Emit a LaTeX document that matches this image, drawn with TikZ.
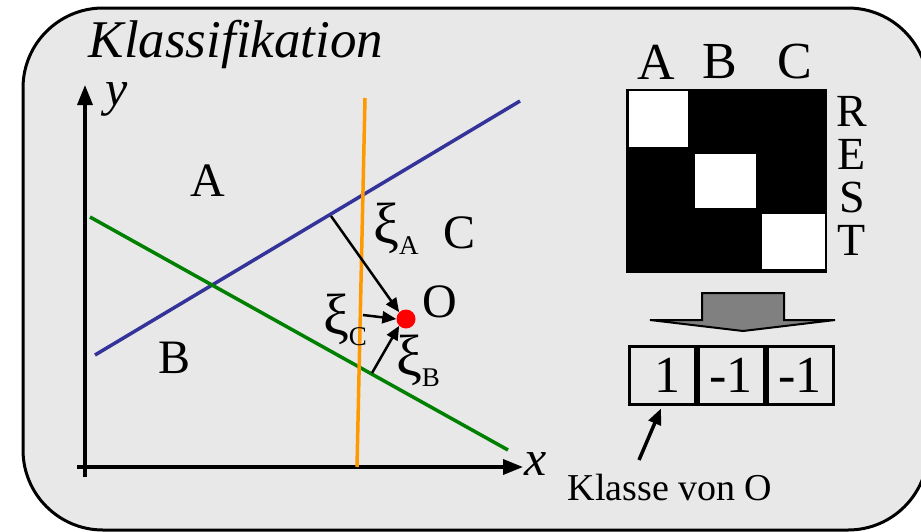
\documentclass[tikz,border=0pt]{standalone}
\usepackage{fontspec}
\setmainfont{Liberation Serif}
\usetikzlibrary{arrows.meta,positioning,calc}
\definecolor{panelgray}{HTML}{E8E8E8}
\definecolor{lblue}{HTML}{333399}
\definecolor{lgreen}{HTML}{008000}
\definecolor{lorange}{HTML}{FF9900}
\definecolor{blockgray}{HTML}{808080}
\newcommand{\xilabel}[1]{{\fontsize{58}{58}\selectfont ξ}\raisebox{-11pt}{\fontsize{27}{27}\selectfont #1}}

\begin{document}
\begin{tikzpicture}[x=1pt, y=-1pt,
  lbl/.style={inner sep=0pt, font=\fontsize{48}{50}\selectfont},
  sepline/.style={line width=3.5pt},
  axis/.style={line width=3.5pt, -{Triangle[length=20pt,width=15pt]}},
  xiarrow/.style={line width=2.5pt, -{Triangle[length=14pt,width=12pt]}},
  valbox/.style={draw, line width=3pt, minimum width=66pt, minimum height=58pt,
    inner sep=0pt, font=\fontsize{52}{52}\selectfont}]
\useasboundingbox (0,0) rectangle (921,531);
% ---------- panel ----------
\draw[fill=panelgray, line width=3pt, rounded corners=80pt] (23,8) rectangle (928,530);
\node[lbl, font=\fontsize{53}{54}\selectfont\itshape] (title) at (236,44) {Klassifikation};
% ---------- left: feature plane ----------
\coordinate (ybot)  at (85,477);
\coordinate (ytip)  at (85,85);
\coordinate (xleft) at (77,467);
\coordinate (xtip)  at (523,467);
\draw[axis] (ybot) -- (ytip);
\draw[axis] (xleft) -- (xtip);
\node[lbl, font=\fontsize{50}{50}\selectfont\itshape] (ylab) at (117,99) {y};
\node[lbl, font=\fontsize{50}{50}\selectfont\itshape] (xlab) at (536,464) {x};
% separating lines
\coordinate (bl1) at (95,355);  \coordinate (bl2) at (520,101);
\coordinate (gl1) at (90,217);  \coordinate (gl2) at (508,450);
\coordinate (ol1) at (365,98);  \coordinate (ol2) at (357,467);
\draw[sepline, lblue]   (bl1) -- (bl2);
\draw[sepline, lgreen]  (gl1) -- (gl2);
\draw[sepline, lorange] (ol1) -- (ol2);
\node[lbl] (regA) at (208,181) {A};
\node[lbl] (regB) at (175,358) {B};
\node[lbl] (regC) at (460,233) {C};
% object O and its distances
\node[circle, fill=red, inner sep=0pt, minimum size=19pt] (obj) at (406,319) {};
\node[lbl] (objlab) at (440,302) {O};
\coordinate (footA) at (331,216);
\coordinate (footB) at (372,373);
\coordinate (footC) at (363,315);
\draw[xiarrow] (footA) -- (obj.north west);
\draw[xiarrow] (footB) -- (obj.south west);
\draw[xiarrow] (footC) -- (obj.west);
\node[lbl] (xiA) at (396,229) {\xilabel{A}};
\node[lbl] (xiC) at (345,320) {\xilabel{C}};
\node[lbl] (xiB) at (418,361) {\xilabel{B}};
% ---------- right: code matrix ----------
\fill (626,89) rectangle (827,273);
\foreach \xa/\ya/\xb/\yb in {628/90/689/148, 694/153/757/209, 761/213/826/270}{
  \draw[fill=white, line width=2pt] (\xa,\ya) rectangle (\xb,\yb);
}
\node[lbl, font=\fontsize{52}{52}\selectfont] (colA) at (656,62) {A};
\node[lbl, font=\fontsize{52}{52}\selectfont] (colB) at (720,62) {B};
\node[lbl, font=\fontsize{52}{52}\selectfont] (colC) at (795,62) {C};
\node[lbl, font=\fontsize{46}{43}\selectfont, align=center] (rest) at (852,176) {R\\E\\S\\T};
% block arrow
\draw[fill=blockgray, line width=2pt] (702,293) -- (784,293) -- (784,320) -- (835,320)
  -- (743,331) -- (650,320) -- (702,320) -- cycle;
% output vector
\node[valbox] (v1) at (662,375) {\hspace{10pt}1};
\node[valbox, right=0pt of v1] (v2) {-1};
\node[valbox, right=0pt of v2] (v3) {-1};
\node[lbl, font=\fontsize{38}{38}\selectfont] (klasse) at (670,487) {Klasse von O};
\coordinate (ktail) at (639,460);
\draw[line width=3.5pt, -{Triangle[length=16pt,width=13pt]}] (ktail) -- ($(v1.south)+(-1,3)$);
\end{tikzpicture}
\end{document}
